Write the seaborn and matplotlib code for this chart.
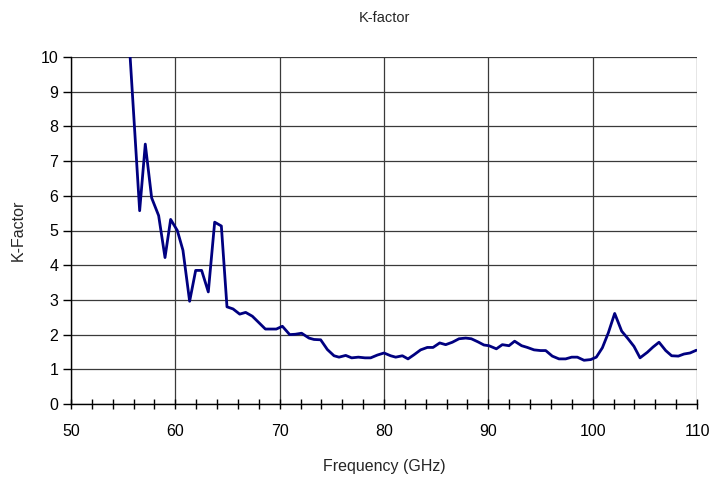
import matplotlib
matplotlib.use("Agg")
import matplotlib.pyplot as plt
import seaborn as sns
import pandas as pd
from matplotlib.ticker import MultipleLocator

freq = [55.4, 56.58, 57.12, 57.73, 58.40, 59.01, 59.55, 60.19, 60.73, 61.37,
        61.95, 62.52, 63.16, 63.77, 64.41, 64.95, 65.53, 66.17, 66.74, 67.38,
        67.99, 68.63, 69.2, 69.68, 70.26, 70.96, 71.5, 72.1, 72.81, 73.29,
        73.93, 74.57, 75.21, 75.69, 76.33, 76.9, 77.54, 78.18, 78.72, 79.36,
        80.0, 80.64, 81.12, 81.76, 82.30, 82.88, 83.51, 84.15, 84.7, 85.34,
        85.91, 86.55, 87.19, 87.83, 88.37, 89.01, 89.58, 90.06, 90.77, 91.34,
        91.98, 92.52, 93.19, 93.74, 94.38, 95.0, 95.5, 96.13, 96.77, 97.41,
        97.99, 98.53, 99.17, 99.81, 100.35, 100.93, 101.5, 102.11, 102.78, 103.39,
        103.96, 104.54, 105.24, 105.78, 106.36, 107.0, 107.57, 108.21, 108.75, 109.33,
        109.94]
kfactor = [11.3, 5.57, 7.49, 5.94, 5.43, 4.22, 5.32, 5.0, 4.43, 2.96,
           3.85, 3.85, 3.23, 5.24, 5.13, 2.80, 2.74, 2.59, 2.64, 2.53,
           2.35, 2.16, 2.16, 2.16, 2.24, 2.0, 2.01, 2.04, 1.90, 1.86,
           1.85, 1.57, 1.39, 1.35, 1.40, 1.33, 1.35, 1.33, 1.33, 1.41,
           1.47, 1.39, 1.35, 1.39, 1.30, 1.42, 1.56, 1.63, 1.63, 1.76,
           1.71, 1.78, 1.88, 1.90, 1.88, 1.79, 1.70, 1.68, 1.59, 1.71,
           1.68, 1.81, 1.68, 1.63, 1.56, 1.54, 1.54, 1.38, 1.30, 1.30,
           1.35, 1.35, 1.26, 1.28, 1.35, 1.62, 2.05, 2.61, 2.10, 1.88,
           1.66, 1.33, 1.49, 1.64, 1.78, 1.54, 1.39, 1.38, 1.44, 1.47,
           1.55]

df = pd.DataFrame({"Frequency": freq, "K": kfactor})

sns.set_style("white")
plt.rcParams['font.family'] = ['Liberation Sans', 'DejaVu Sans']

fig = plt.figure(figsize=(7.13, 4.78), dpi=100)
ax = fig.add_axes([71/713, 1 - 404/478, (697 - 71)/713, (404 - 57)/478])

sns.lineplot(data=df, x="Frequency", y="K", ax=ax, color="#000080",
             linewidth=2, sort=False, estimator=None, zorder=3)

ax.set_xlim(50, 110)
ax.set_ylim(0, 10)
ax.xaxis.set_major_locator(MultipleLocator(10))
ax.xaxis.set_minor_locator(MultipleLocator(2))
ax.yaxis.set_major_locator(MultipleLocator(1))

ax.grid(True, which="major", color="#3a3a3a", linewidth=0.9)
ax.set_axisbelow(True)

for s in ["top", "right"]:
    ax.spines[s].set_visible(False)
for s in ["left", "bottom"]:
    ax.spines[s].set_color("black")
    ax.spines[s].set_linewidth(1)

ax.tick_params(axis="x", which="both", direction="inout", length=7, width=1,
               colors="black", labelsize=11.5, pad=11, bottom=True)
ax.tick_params(axis="y", which="major", direction="out", length=6, width=1,
               colors="black", labelsize=11.5, pad=3, left=True)

ax.set_xlabel("Frequency (GHz)", fontsize=11.5)
ax.set_ylabel("K-Factor", fontsize=11.5)
ax.xaxis.set_label_coords(0.5, (404 - 459) / 347)
ax.yaxis.set_label_coords((26 - 71) / 626, 0.5)
fig.text(0.5 * (71 + 697) / 713, 1 - 18 / 478, "K-factor", ha="center",
         va="center", fontsize=10.5)

fig.savefig("out.png", dpi=100)
